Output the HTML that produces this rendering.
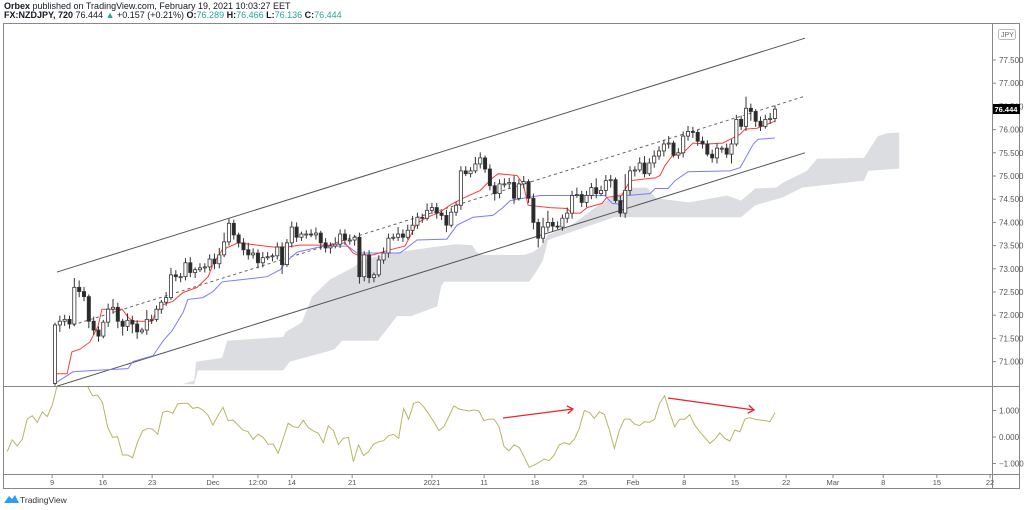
<!DOCTYPE html>
<html><head><meta charset="utf-8">
<style>
html,body{margin:0;padding:0;background:#fff;width:1024px;height:510px;overflow:hidden;font-family:"Liberation Sans",sans-serif;}
#hdr1{position:absolute;left:4px;top:1px;font-size:9px;color:#131722;}
#hdr2{position:absolute;left:4px;top:10px;font-size:9px;color:#131722;font-weight:bold;}
#hdr2 .v{color:#26a69a;font-weight:normal}
svg{position:absolute;left:0;top:0}
</style></head><body>
<div id="hdr1"><b>Orbex</b> published on TradingView.com, February 19, 2021 10:03:27 EET</div>
<div id="hdr2">FX:NZDJPY, 720 <span style="font-weight:normal">76.444 <span style="color:#26a69a">▲</span> +0.157 (+0.21%)</span> O:<span class="v">76.289</span> H:<span class="v">76.466</span> L:<span class="v">76.136</span> C:<span class="v">76.444</span></div>
<svg id="chart" width="1024" height="510"></svg>
<script>
const closes=[71.79,71.87,71.91,71.81,72.60,72.51,72.40,71.87,71.68,71.55,71.85,72.13,72.17,71.87,71.76,71.89,71.81,71.64,71.68,71.91,71.91,72.13,72.28,72.38,72.87,72.83,72.83,73.13,72.92,72.98,73.02,73.04,73.21,73.11,73.30,73.58,73.98,73.73,73.56,73.41,73.30,73.34,73.13,73.24,73.26,73.28,73.47,73.09,73.56,73.90,73.68,73.75,
73.75,73.73,73.77,73.56,73.45,73.49,73.53,73.75,73.62,73.62,73.68,72.83,73.30,72.81,72.87,73.19,73.34,73.66,73.68,73.75,73.68,73.83,73.94,74.11,74.09,74.26,74.32,74.20,74.15,73.94,74.22,74.37,75.11,75.05,75.11,75.26,75.39,75.15,74.79,74.62,74.83,74.83,74.86,74.52,74.83,74.88,74.52,74.00,73.66,73.90,74.00,73.92,
73.90,74.09,74.20,74.58,74.60,74.43,74.58,74.75,74.62,74.69,74.90,74.92,74.47,74.20,74.69,75.11,75.13,75.28,75.05,75.28,75.43,75.54,75.69,75.71,75.45,75.50,75.86,75.96,75.94,75.75,75.69,75.47,75.39,75.60,75.60,75.47,75.69,76.22,76.07,76.46,76.39,76.18,76.07,76.22,76.24,76.44];
const firstOpen=70.53;
const wickUp=[0.05,0.12,0.1,0.08,0.2,0.15,0.1,0.05,0.1,0.08,0.05,0.12,0.18,0.1,0.05,0.15,0.1,0.08,0.05,0.2,0.1,0.08,0.05,0.12,0.15,0.1,0.08,0.1,0.12,0.05,0.1,0.08,0.1,0.12,0.15,0.2,0.1,0.08,0.05,0.1,0.15,0.1,0.08,0.12,0.1,0.05,0.1,0.1,0.08,0.12,0.1,0.05,
0.08,0.1,0.12,0.05,0.1,0.08,0.15,0.1,0.1,0.12,0.05,0.1,0.08,0.1,0.05,0.1,0.12,0.1,0.08,0.15,0.1,0.12,0.2,0.1,0.08,0.15,0.1,0.1,0.05,0.12,0.1,0.08,0.1,0.1,0.08,0.15,0.12,0.05,0.1,0.08,0.1,0.12,0.1,0.15,0.1,0.12,0.05,0.1,0.08,0.2,0.25,0.1,
0.1,0.08,0.12,0.1,0.15,0.08,0.1,0.1,0.2,0.1,0.12,0.1,0.05,0.1,0.35,0.1,0.08,0.12,0.15,0.1,0.12,0.1,0.08,0.15,0.05,0.1,0.1,0.12,0.1,0.05,0.1,0.08,0.1,0.1,0.05,0.1,0.1,0.1,0.08,0.25,0.1,0.05,0.1,0.1,0.12,0.08,0.1,0.05,0.06,0.02];
const wickDn=[0.05,0.15,0.1,0.1,0.05,0.12,0.1,0.15,0.1,0.12,0.05,0.1,0.1,0.15,0.2,0.1,0.2,0.15,0.05,0.1,0.1,0.05,0.1,0.08,0.05,0.1,0.12,0.08,0.1,0.12,0.05,0.1,0.08,0.12,0.1,0.05,0.08,0.1,0.1,0.12,0.1,0.08,0.12,0.1,0.05,0.1,0.08,0.2,0.05,0.1,0.1,0.08,
0.1,0.05,0.1,0.15,0.1,0.12,0.05,0.08,0.1,0.1,0.12,0.15,0.1,0.12,0.1,0.05,0.08,0.1,0.05,0.08,0.1,0.05,0.1,0.08,0.1,0.05,0.08,0.12,0.1,0.15,0.05,0.08,0.1,0.05,0.08,0.05,0.1,0.08,0.1,0.15,0.1,0.08,0.1,0.12,0.05,0.1,0.1,0.15,0.2,0.1,
0.1,0.12,0.05,0.08,0.1,0.12,0.05,0.1,0.1,0.08,0.1,0.05,0.12,0.15,0.05,0.08,0.1,0.1,0.12,0.05,0.08,0.05,0.1,0.08,0.12,0.1,0.05,0.08,0.1,0.1,0.12,0.1,0.1,0.05,0.1,0.12,0.1,0.08,0.2,0.05,0.08,0.1,0.2,0.12,0.1,0.05,0.1,0.08,0.1,0.06,0.05];
const tenkanI=[0,2.5,3.5,5.2,7.2,8.9,9.7,13.9,15.1,16.1,20.1,20.7,22.4,24.4,26.5,29.4,31.7,32.7,34.6,37.9,45.1,48,50.7,56.9,60,61.7,62.5,65.8,69.3,72.4,73.1,74.9,77,79.7,81.7,84.4,88,90.6,91.7,95.6,96.9,97.9,102.4,106,107,108.7,110.1,113.2,114.2,117.3,119,122.5,124.2,125.2,126.2,127.7,130,132,134.9,138.2,141.8,142.8,145.3,149];
const tenkanP=[70.74,70.74,71.21,71.27,71.42,71.76,72.13,72.13,71.96,71.87,71.87,72.02,72.23,72.30,72.49,72.60,72.83,73.09,73.41,73.56,73.47,73.47,73.51,73.51,73.56,73.34,73.30,73.30,73.41,73.49,73.62,73.98,74.11,74.22,74.37,74.52,74.69,74.96,75.05,75.01,74.83,74.37,74.32,74.30,74.20,74.20,74.32,74.41,74.54,74.58,74.90,74.94,74.96,75.01,75.22,75.43,75.50,75.71,75.69,75.71,75.90,76.01,76.03,76.18];
const kijunI=[0,3.7,8.3,15.1,16.1,20.3,22.4,24.2,26.5,27.5,30.6,32.7,34.6,38.9,43.9,46.6,48.2,50.1,55.5,60.6,62.5,71.4,72.8,74.9,81.1,83.2,86.5,90.6,92.7,94.2,96.9,100.4,113.8,115.3,116.9,118.4,123.1,124.2,126.9,128.3,131,139.7,141.8,144.5,145.5,149];
const kijunP=[70.53,70.78,70.81,70.85,71.00,71.13,71.45,71.66,72.06,72.34,72.38,72.51,72.72,72.77,72.83,72.98,73.19,73.36,73.49,73.49,73.34,73.34,73.45,73.62,73.64,73.94,74.11,74.15,74.32,74.47,74.52,74.58,74.58,74.41,74.39,74.58,74.62,74.73,74.73,74.90,75.09,75.11,75.18,75.69,75.79,75.82];
const cloudTopI=[26.3,28.8,29.2,34.6,35.6,47.2,47.8,51.1,52.2,53.2,56.9,61.9,63.7,69.7,78.4,83,86.3,87.3,88.2,97.1,98.9,100.4,102,106.8,111.8,115.1,119.4,122.5,124.4,131.2,139.1,142,144.9,149.2,150.7,155.6,157.7,167.4,170.3,172.2,174.7];
const cloudTopP=[70.51,70.59,71.00,71.08,71.45,71.53,71.64,71.85,72.13,72.40,72.77,73.04,73.19,73.34,73.47,73.53,73.51,73.36,73.30,73.30,73.36,73.47,73.73,73.94,74.32,74.54,74.75,74.75,74.52,74.43,74.58,74.47,74.73,74.75,74.86,75.11,75.37,75.39,75.86,75.92,75.94];
const cloudBotI=[28.8,29.6,47.2,48.6,56.1,57.9,59.4,66.8,68.7,70.8,73.7,79.1,79.9,80.5,98.1,99.5,101,102,115.7,142,143,144.9,150.7,154.6,167.4,168.3,174.7];
const cloudBotP=[70.51,70.81,70.81,71.00,71.21,71.27,71.45,71.45,71.70,71.98,71.98,72.19,72.62,72.72,72.72,72.92,73.19,73.62,74.11,74.11,74.20,74.37,74.54,74.75,74.90,75.11,75.16];
const oscVals=[-0.55,-0.11,-0.34,-0.09,0.67,0.80,0.55,0.95,0.77,1.21,1.96,2.3,2.6,2.5,2.2,2.0,1.92,1.56,1.58,1.30,0.39,-0.01,0.01,-0.68,-0.68,-0.78,-0.18,0.23,0.33,0.29,0.10,0.93,0.98,0.89,1.25,1.27,1.27,1.08,1.12,1.02,0.83,0.45,0.80,1.12,0.62,0.64,0.45,0.26,0.20,-0.09,0.11,-0.01,-0.28,-0.26,-0.62,-0.05,0.52,0.39,0.36,0.63,0.35,0.23,0.14,-0.21,0.42,0.24,-0.28,-0.05,-0.01,-0.93,-0.30,-0.70,-0.55,-0.28,-0.18,-0.14,0.05,0.10,-0.05,
1.08,0.67,1.27,1.33,1.14,0.87,0.58,0.24,0.39,0.77,1.17,1.06,1.02,0.98,1.02,0.98,0.62,0.67,0.68,0.39,-0.36,-0.52,-0.30,-0.39,-0.74,-1.14,-1.06,-0.96,-0.83,-0.89,-0.68,-0.30,-0.21,-0.28,-0.09,0.33,1.00,0.93,0.70,0.95,0.85,0.26,-0.43,0.26,0.67,0.68,0.49,0.43,0.58,0.55,0.67,1.27,1.56,0.93,0.39,0.67,0.67,0.84,0.45,0.20,-0.01,-0.24,-0.09,0.16,-0.05,-0.15,0.26,0.20,0.67,0.73,0.67,0.64,0.62,0.58,0.92];
const oscStartBar=-9.9;
const channelUpper=[[0.4,72.93],[155.2,77.97]];
const channelLower=[[0.4,70.47],[155.2,75.50]];
const channelMid=[[3.7,71.79],[155.2,76.72]];
const priceTicks=[77.5,77.0,76.5,76.0,75.5,75.0,74.5,74.0,73.5,73.0,72.5,72.0,71.5,71.0];
const priceTickLabels=["77.500","77.000","76.500","76.000","75.500","75.000","74.500","74.000","73.500","73.000","72.500","72.000","71.500","71.000"];
const oscTicks=[1,0,-1];
const oscTickLabels=["1.000","0.000","−1.000"];
const timeLabels=["9","16","23","Dec","12:00","14","21","2021","11","18","25","Feb","8","15","22","Mar","8","15","22"];
const timeLabelBars=[-0.6,9.9,20.1,32.7,42,49,61.5,78,88.8,99.3,109.3,119.6,130.2,140.7,151.3,161,171.4,182.5,193.5];
const lastPrice=76.444;

const NS="http://www.w3.org/2000/svg";
const svg=document.getElementById('chart');
const X0=55,STEP=720/149;
const xS=i=>X0+i*STEP;
const yS=p=>60+(77.5-p)*46.4;
const yO=v=>437-v*26.5;
function el(tag,attrs,parent){const e=document.createElementNS(NS,tag);for(const k in attrs)e.setAttribute(k,attrs[k]);(parent||svg).appendChild(e);return e;}

const defs=el('defs',{});
const cp1=el('clipPath',{id:'cpMain'},defs);el('rect',{x:4,y:24,width:988,height:362},cp1);
const cp2=el('clipPath',{id:'cpOsc'},defs);el('rect',{x:4,y:387,width:988,height:87},cp2);
const gMain=el('g',{'clip-path':'url(#cpMain)'});


const gOsc=el('g',{'clip-path':'url(#cpOsc)'});



let pts=[];
for(let k=0;k<cloudTopI.length;k++)pts.push(xS(cloudTopI[k]).toFixed(1)+','+yS(cloudTopP[k]).toFixed(1));
for(let k=cloudBotI.length-1;k>=0;k--)pts.push(xS(cloudBotI[k]).toFixed(1)+','+yS(cloudBotP[k]).toFixed(1));
const cloud=el('polygon',{points:pts.join(' '),fill:'#dcdde1',stroke:'none'},gMain);



function seg(d,stroke,dash,name){const l=el('line',{x1:xS(d[0][0]),y1:yS(d[0][1]),x2:xS(d[1][0]),y2:yS(d[1][1]),stroke:stroke,'stroke-width':1});if(dash)l.setAttribute('stroke-dasharray',dash);gMain.appendChild(l);

}
seg(channelUpper,'#555',null,'channel-upper-line');
seg(channelLower,'#555',null,'channel-lower-line');
seg(channelMid,'#666','3,3','channel-mid-line');

function poly(is,ps,color,name){const p=is.map((v,k)=>xS(v).toFixed(1)+','+yS(ps[k]).toFixed(1)).join(' ');const l=el('polyline',{points:p,fill:'none',stroke:color,'stroke-width':1},gMain);

}
poly(kijunI,kijunP,'#7b7bff','kijun-line');
poly(tenkanI,tenkanP,'#ff3b3b','tenkan-line');

const bw=3.2;
for(let i=0;i<closes.length;i++){
  const o=i===0?firstOpen:closes[i-1],c=closes[i];
  const wu=(wickUp[i]!==undefined)?wickUp[i]:0.05;
  const wd=(wickDn[i]!==undefined)?wickDn[i]:0.05;
  const hi=Math.max(o,c)+wu,lo=Math.min(o,c)-wd;
  const x=xS(i);
  const g=el('g',{},gMain);
  
  
  el('line',{x1:x,y1:yS(hi),x2:x,y2:yS(lo),stroke:'#333','stroke-width':1},g);
  const top=yS(Math.max(o,c)),h=Math.max(1,yS(Math.min(o,c))-top);
  el('rect',{x:x-bw/2,y:top,width:bw,height:h,fill:c>=o?'#fff':'#2a2a2a',stroke:'#333','stroke-width':0.8},g);
}

const oStep=(149-oscStartBar)/(oscVals.length-1);
const op=oscVals.map((v,k)=>xS(oscStartBar+k*oStep).toFixed(1)+','+yO(v).toFixed(1)).join(' ');
const ol=el('polyline',{points:op,fill:'none',stroke:'#b8b662','stroke-width':1},gOsc);



function arrow(x1,y1,x2,y2,name){const g=el('g',{stroke:'#f0222a','stroke-width':1.3,fill:'none'});


el('line',{x1:x1,y1:y1,x2:x2,y2:y2},g);const a=Math.atan2(y2-y1,x2-x1);
el('polyline',{points:`${x2-7*Math.cos(a-0.6)},${y2-7*Math.sin(a-0.6)} ${x2},${y2} ${x2-7*Math.cos(a+0.6)},${y2-7*Math.sin(a+0.6)}`},g);}
arrow(503,418,573,409,'divergence-arrow-1');
arrow(668,398,754,410,'divergence-arrow-2');

const fr=el('g',{stroke:'#888','stroke-width':1,fill:'none'});


el('rect',{x:3.5,y:23.5,width:1016,height:465},fr);
el('line',{x1:992.5,y1:24,x2:992.5,y2:489},fr);
el('line',{x1:4,y1:386.5,x2:1020,y2:386.5},fr);
el('line',{x1:4,y1:474.5,x2:1020,y2:474.5},fr);

priceTicks.forEach((p,k)=>{const y=yS(p);el('line',{x1:993,y1:y,x2:996,y2:y,stroke:'#888'});
const t=el('text',{x:999,y:y+3,'font-size':8,fill:'#555','font-family':'Liberation Sans, sans-serif'});t.textContent=priceTickLabels[k];

});
oscTicks.forEach((v,k)=>{const y=yO(v);el('line',{x1:993,y1:y,x2:996,y2:y,stroke:'#888'});
const t=el('text',{x:999,y:y+3,'font-size':8,fill:'#555','font-family':'Liberation Sans, sans-serif'});t.textContent=oscTickLabels[k];

});
const ly=yS(lastPrice);
const badge=el('g',{});


el('rect',{x:993,y:ly-5,width:27,height:10,fill:'#000'},badge);
const bt=el('text',{x:994.5,y:ly+3,'font-size':7.5,fill:'#fff','font-weight':'bold','font-family':'Liberation Sans, sans-serif'},badge);bt.textContent=lastPrice.toFixed(3);
const jb=el('g',{});


el('rect',{x:998.5,y:29.5,width:17,height:10,rx:2,fill:'#fff',stroke:'#bbb'},jb);
const jt=el('text',{x:1001,y:37,'font-size':7,fill:'#666','font-family':'Liberation Sans, sans-serif'},jb);jt.textContent='JPY';

timeLabels.forEach((s,k)=>{const x=xS(timeLabelBars[k]);if(x>992)return;el('line',{x1:x,y1:475,x2:x,y2:478,stroke:'#888'});
const t=el('text',{x:x,y:485,'font-size':7.5,fill:'#555','text-anchor':'middle','font-family':'Liberation Sans, sans-serif'});t.textContent=s;

});

const lg=el('g',{});


el('path',{d:'M4 503 L9 496 L12 499 L15 495 L19 503 Z',fill:'#2e9cf5'},lg);
const lt=el('text',{x:20,y:503,'font-size':8.5,fill:'#333','font-family':'Liberation Sans, sans-serif'},lg);lt.textContent='TradingView';
</script>
</body></html>
